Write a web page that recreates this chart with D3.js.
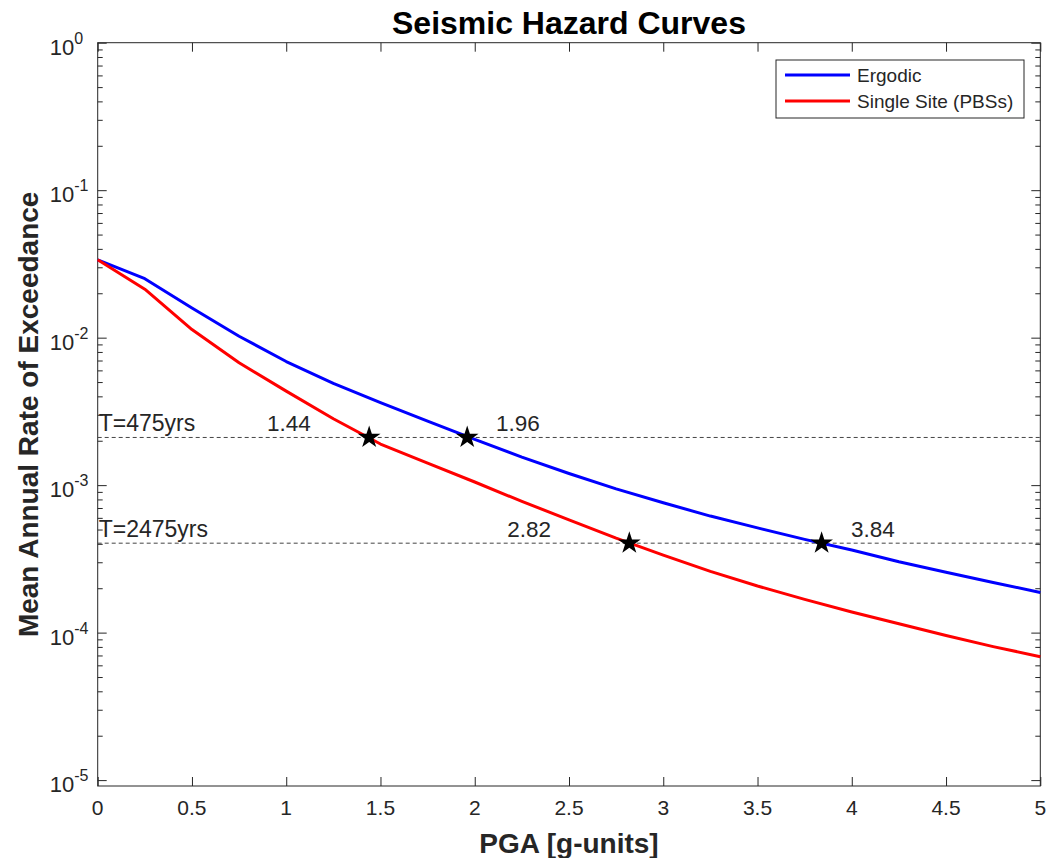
<!DOCTYPE html>
<html>
<head>
<meta charset="utf-8">
<script src="https://cdn.jsdelivr.net/npm/d3@7"></script>
<style>
  body { margin: 0; background: #fff; }
  svg text { font-family: "Liberation Sans", Arial, Helvetica, sans-serif; fill: #262626; }
</style>
</head>
<body>
<div id="chart"></div>
<script>
// PGA grid, g-units
var pga = [0, 0.25, 0.5, 0.75, 1, 1.25, 1.5, 1.75, 2, 2.25, 2.5, 2.75, 3, 3.25, 3.5, 3.75, 4, 4.25, 4.5, 4.75, 5];

// ergodic hazard curve
var ergodic = [0.0337, 0.0251, 0.0159, 0.01023, 0.00689, 0.0049, 0.00363, 0.00272, 0.00204, 0.00155,
  0.0012, 0.000944, 0.000759, 0.000617, 0.000513, 0.000429, 0.000363, 0.000302, 0.000257, 0.000219, 0.000187];

// single site (PBSs) hazard curve
var singleSite = [0.0337, 0.0213, 0.01135, 0.00676, 0.00434, 0.00282, 0.0019, 0.00141, 0.00105, 0.000776,
  0.000582, 0.000437, 0.000335, 0.00026, 0.000207, 0.000168, 0.000138, 0.000115, 0.0000955, 0.0000804, 0.0000687];

// return periods and their crossing PGAs
var returnPeriods = [475, 2475];
var periodLabels = ["T=475yrs", "T=2475yrs"];
var crossPGA = [1.44, 1.96, 2.82, 3.84];
var crossRate = [1 / 475, 1 / 475, 1 / 2475, 1 / 2475];
var crossLabel = ["1.44", "1.96", "2.82", "3.84"];
// where each number label starts (PGA units)
var crossLabelX = [0.898, 2.113, 2.172, 3.996];

var xTicks = [0, 0.5, 1, 1.5, 2, 2.5, 3, 3.5, 4, 4.5, 5];
var xTickLabels = ["0", "0.5", "1", "1.5", "2", "2.5", "3", "3.5", "4", "4.5", "5"];
var yExponents = [0, -1, -2, -3, -4, -5];

var seriesNames = ["Ergodic", "Single Site (PBSs)"];
var seriesColors = ["#0000ff", "#ff0000"];

var W = 1053, H = 858;
var margin = { top: 42.7, right: 12.7, bottom: 72, left: 97.7 },
  width = W - margin.left - margin.right,
  height = H - margin.top - margin.bottom;

var svg = d3.select("#chart").append("svg")
  .attr("width", W).attr("height", H)
  .append("g")
  .attr("transform", "translate(" + margin.left + "," + margin.top + ")");

var x = d3.scaleLinear().domain([0, 5]).range([0, width]);
var y = d3.scaleLog().domain([Math.pow(10, -5.04), 1]).range([height, 0]);

var majors = yExponents.map(function (e) { return Math.pow(10, e); });
var minors = [];
for (var e = -5; e < 0; e++) {
  for (var m = 2; m <= 9; m++) minors.push(m * Math.pow(10, e));
}

// ticks (inward on all four sides)
function tickAxis(axis, cls, tr) {
  var g = svg.append("g").attr("class", cls).call(axis);
  if (tr) g.attr("transform", tr);
  g.selectAll("line").attr("stroke", "#262626");
  g.select(".domain").remove();
  g.selectAll("text").remove();
}
tickAxis(d3.axisBottom(x).tickValues(xTicks).tickSize(-9).tickSizeOuter(0), "xb", "translate(0," + height + ")");
tickAxis(d3.axisTop(x).tickValues(xTicks).tickSize(-9).tickSizeOuter(0), "xt");
tickAxis(d3.axisLeft(y).tickValues(majors).tickSize(-9).tickSizeOuter(0), "yl");
tickAxis(d3.axisLeft(y).tickValues(minors).tickSize(-5).tickSizeOuter(0), "ylm");
tickAxis(d3.axisRight(y).tickValues(majors).tickSize(-9).tickSizeOuter(0), "yr", "translate(" + width + ",0)");
tickAxis(d3.axisRight(y).tickValues(minors).tickSize(-5).tickSizeOuter(0), "yrm", "translate(" + width + ",0)");

// frame
svg.append("rect")
  .attr("width", width).attr("height", height)
  .attr("fill", "none").attr("stroke", "#262626").attr("stroke-width", 1);

// x tick labels
svg.selectAll(".xlab").data(xTicks).enter().append("text")
  .attr("x", function (d) { return x(d); })
  .attr("y", height + 29)
  .attr("text-anchor", "middle")
  .style("font-size", "21px")
  .text(function (d, i) { return xTickLabels[i]; });

// y tick labels 10^k
var yl = svg.selectAll(".ylab").data(yExponents).enter().append("text")
  .attr("x", -48)
  .attr("y", function (d) { return y(Math.pow(10, d)) + 12; })
  .style("font-size", "22px");
yl.append("tspan").text("10");
yl.append("tspan").attr("dy", -11).style("font-size", "16px").text(function (d) { return d; });

// return period lines
svg.selectAll(".rp").data(returnPeriods).enter().append("line")
  .attr("x1", 0).attr("x2", width)
  .attr("y1", function (d) { return y(1 / d); })
  .attr("y2", function (d) { return y(1 / d); })
  .attr("stroke", "#444").attr("stroke-width", 1)
  .attr("stroke-dasharray", "4,3");

svg.selectAll(".rplab").data(returnPeriods).enter().append("text")
  .attr("x", 1)
  .attr("y", function (d) { return y(1 / d) - 6; })
  .style("font-size", "23px")
  .text(function (d, i) { return periodLabels[i]; });

// hazard curves
var line = d3.line()
  .x(function (d) { return x(d[0]); })
  .y(function (d) { return y(d[1]); });

[ergodic, singleSite].forEach(function (s, i) {
  svg.append("path")
    .datum(d3.zip(pga, s))
    .attr("d", line)
    .attr("fill", "none")
    .attr("stroke", seriesColors[i])
    .attr("stroke-width", 3)
    .attr("stroke-linejoin", "round");
});

// stars at crossings
svg.selectAll(".star").data(crossPGA).enter().append("path")
  .attr("d", d3.symbol().type(d3.symbolStar).size(160))
  .attr("transform", function (d, i) {
    return "translate(" + x(d) + "," + y(crossRate[i]) + ")";
  })
  .attr("fill", "#000");

svg.selectAll(".crosslab").data(crossPGA).enter().append("text")
  .attr("x", function (d, i) { return x(crossLabelX[i]); })
  .attr("y", function (d, i) { return y(crossRate[i]) - 6; })
  .style("font-size", "22.5px")
  .text(function (d, i) { return crossLabel[i]; });

// legend
var leg = svg.append("g").attr("transform", "translate(" + (776 - margin.left) + "," + (60 - margin.top) + ")");
leg.append("rect").attr("width", 248).attr("height", 58)
  .attr("fill", "#fff").attr("stroke", "#262626").attr("stroke-width", 1);
seriesNames.forEach(function (n, i) {
  leg.append("line")
    .attr("x1", 9).attr("x2", 74)
    .attr("y1", 15 + i * 26).attr("y2", 15 + i * 26)
    .attr("stroke", seriesColors[i]).attr("stroke-width", 3);
  leg.append("text")
    .attr("x", 81).attr("y", 22 + i * 26)
    .style("font-size", "19px")
    .text(n);
});

// title and axis labels
svg.append("text")
  .attr("x", width / 2).attr("y", -9)
  .attr("text-anchor", "middle")
  .style("font-size", "32px").style("font-weight", "bold")
  .style("fill", "#000")
  .text("Seismic Hazard Curves");

svg.append("text")
  .attr("x", width / 2).attr("y", height + 67)
  .attr("text-anchor", "middle")
  .style("font-size", "28px").style("font-weight", "bold")
  .text("PGA [g-units]");

svg.append("text")
  .attr("transform", "translate(" + (-60) + "," + (height / 2) + ") rotate(-90)")
  .attr("text-anchor", "middle")
  .style("font-size", "28px").style("font-weight", "bold")
  .text("Mean Annual Rate of Exceedance");
</script>
</body>
</html>
